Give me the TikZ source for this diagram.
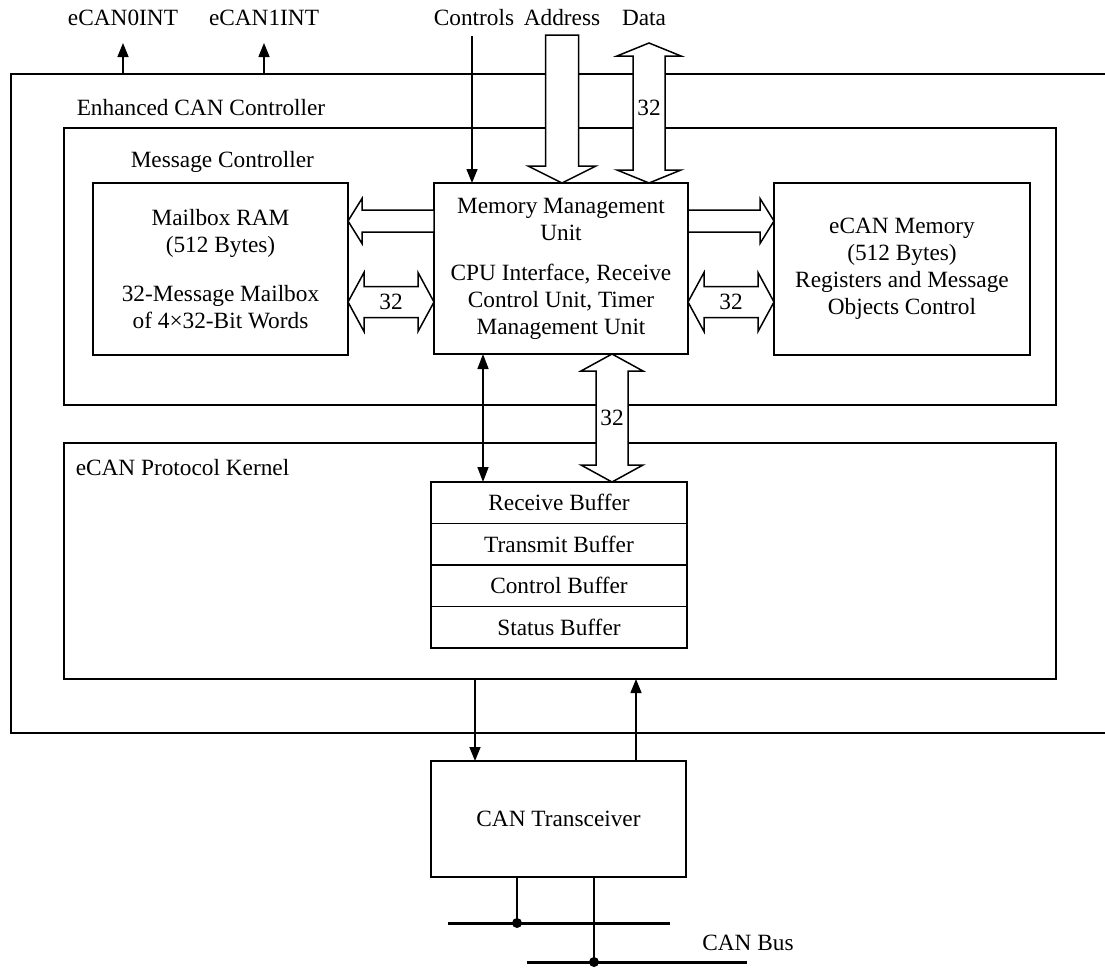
\documentclass[tikz,border=0pt]{standalone}
\usepackage{fontspec}
\setmainfont{Liberation Serif}
\usetikzlibrary{calc,positioning,arrows.meta}

\newcommand{\fatarrow}[5]{%
  \draw[fat] ($(#1)!#3!90:(#2)$)
    -- ($(#2)!#5!(#1)!#3!90:(#2)$)
    -- ($(#2)!#5!(#1)!#4!90:(#2)$)
    -- (#2)
    -- ($(#2)!#5!(#1)!#4!-90:(#2)$)
    -- ($(#2)!#5!(#1)!#3!-90:(#2)$)
    -- ($(#1)!#3!-90:(#2)$) -- cycle;}
\newcommand{\fatdouble}[5]{%
  \draw[fat] (#1)
    -- ($(#1)!#5!(#2)!#4!90:(#2)$)
    -- ($(#1)!#5!(#2)!#3!90:(#2)$)
    -- ($(#2)!#5!(#1)!#3!90:(#2)$)
    -- ($(#2)!#5!(#1)!#4!90:(#2)$)
    -- (#2)
    -- ($(#2)!#5!(#1)!#4!-90:(#2)$)
    -- ($(#2)!#5!(#1)!#3!-90:(#2)$)
    -- ($(#1)!#5!(#2)!#3!-90:(#2)$)
    -- ($(#1)!#5!(#2)!#4!-90:(#2)$)
    -- cycle;}

\begin{document}
\begin{tikzpicture}
  [x=1pt,y=-1pt,line width=1.5pt,
   every node/.style={font=\fontsize{23.3}{27}\selectfont,inner sep=2pt},
   box/.style={draw,rectangle,outer sep=0pt,align=center},
   buf/.style={box,minimum width=256pt,minimum height=41.5pt},
   fat/.style={draw,fill=white,line join=miter},
   sig/.style={-{Triangle[length=14pt,width=11pt]}},
   dsig/.style={{Triangle[length=15pt,width=11pt]}-{Triangle[length=15pt,width=11pt]}},
   bus/.style={line width=3pt}]
  \useasboundingbox (0,0) rectangle (1105,967);

  \node[box,minimum width=1114pt,minimum height=659pt] (outer) at (568,403.5) {};
  \node[box,minimum width=992pt,minimum height=277pt] (msgctl) at (560,266.5) {};
  \node[box,minimum width=992pt,minimum height=236pt] (kernel) at (560,561) {};

  \node[anchor=west] (ecanlbl) at (74,108) {Enhanced CAN Controller};
  \node[anchor=west] (msglbl) at (128,162) {Message Controller};
  \node[anchor=west] (kerlbl) at (73,468) {eCAN Protocol Kernel};

  \node[box,minimum width=255pt,minimum height=172pt] (mail) at (220.5,269)
    {Mailbox RAM\\(512 Bytes)\\[22pt]32-Message Mailbox\\of 4×32-Bit Words};
  \node[box,minimum width=254pt,minimum height=171pt] (mmu) at (561,268.5)
    {Memory Management\\Unit\\[13pt]CPU Interface, Receive\\Control Unit, Timer\\Management Unit};
  \node[box,minimum width=256pt,minimum height=172pt] (mem) at (902,269)
    {eCAN Memory\\(512 Bytes)\\Registers and Message\\Objects Control};

  \node[buf] (recv) at (559,502.75) {Receive Buffer};
  \node[buf,below=0pt of recv] (trans) {Transmit Buffer};
  \node[buf,below=0pt of trans] (ctrl) {Control Buffer};
  \node[buf,below=0pt of ctrl] (stat) {Status Buffer};

  \node[box,minimum width=255pt,minimum height=116pt] (trx) at (558.5,819) {CAN Transceiver};

  \node (int0) at (123,18) {eCAN0INT};
  \node (int1) at (264,18) {eCAN1INT};
  \node (ctl) at (474,18) {Controls};
  \node (adr) at (562,18) {Address};
  \node (dat) at (644,18) {Data};

  \coordinate (int0tip) at (123,43);
  \coordinate (int1tip) at (264,43);
  \coordinate (ctltop) at (472,36);
  \coordinate (adrtop) at (562,35);
  \coordinate (dattop) at (649,43);
  \coordinate (rowa) at (0,221);
  \coordinate (rowb) at (0,302);
  \coordinate (colc) at (483,0);
  \coordinate (cold) at (612,0);
  \coordinate (coldn) at (475,0);
  \coordinate (colup) at (636,0);

  \foreach \tip in {int0tip,int1tip}
    \draw[sig] (outer.north -| \tip) -- (\tip);
  \draw[sig] (ctltop) -- (mmu.north -| ctltop);

  \fatarrow{adrtop}{mmu.north -| adrtop}{16.5pt}{34pt}{17pt}
  \fatdouble{dattop}{mmu.north -| dattop}{16pt}{32pt}{13pt}
  \node (d32) at (649,108) {32};

  \fatarrow{mmu.west |- rowa}{mail.east |- rowa}{11pt}{22.5pt}{14pt}
  \fatarrow{mmu.east |- rowa}{mem.west |- rowa}{11pt}{22.5pt}{14pt}
  \fatdouble{mail.east |- rowb}{mmu.west |- rowb}{15.5pt}{29.5pt}{16pt}
  \fatdouble{mmu.east |- rowb}{mem.west |- rowb}{15.5pt}{29.5pt}{16pt}
  \node (l32) at ($(mail.east |- rowb)!0.5!(mmu.west |- rowb)$) {32};
  \node (r32) at ($(mmu.east |- rowb)!0.5!(mem.west |- rowb)$) {32};

  \draw[dsig] (mmu.south -| colc) -- (recv.north -| colc);
  \fatdouble{mmu.south -| cold}{recv.north -| cold}{16pt}{31pt}{17pt}
  \node (k32) at (612,418) {32};

  \draw[sig] (kernel.south -| coldn) -- (trx.north -| coldn);
  \draw[sig] (trx.north -| colup) -- (kernel.south -| colup);

  \coordinate (busa1) at (448,923);
  \coordinate (busa2) at (670,923);
  \coordinate (busb1) at (527,962);
  \coordinate (busb2) at (747,962);
  \coordinate (taph) at (517,923);
  \coordinate (tapl) at (594,962);
  \draw[bus] (busa1) -- (busa2);
  \draw[bus] (busb1) -- (busb2);
  \foreach \tap in {taph,tapl} {
    \draw (trx.south -| \tap) -- (\tap);
    \fill (\tap) circle (5pt);
  }
  \node (buslbl) at (748,943) {CAN Bus};
\end{tikzpicture}
\end{document}
